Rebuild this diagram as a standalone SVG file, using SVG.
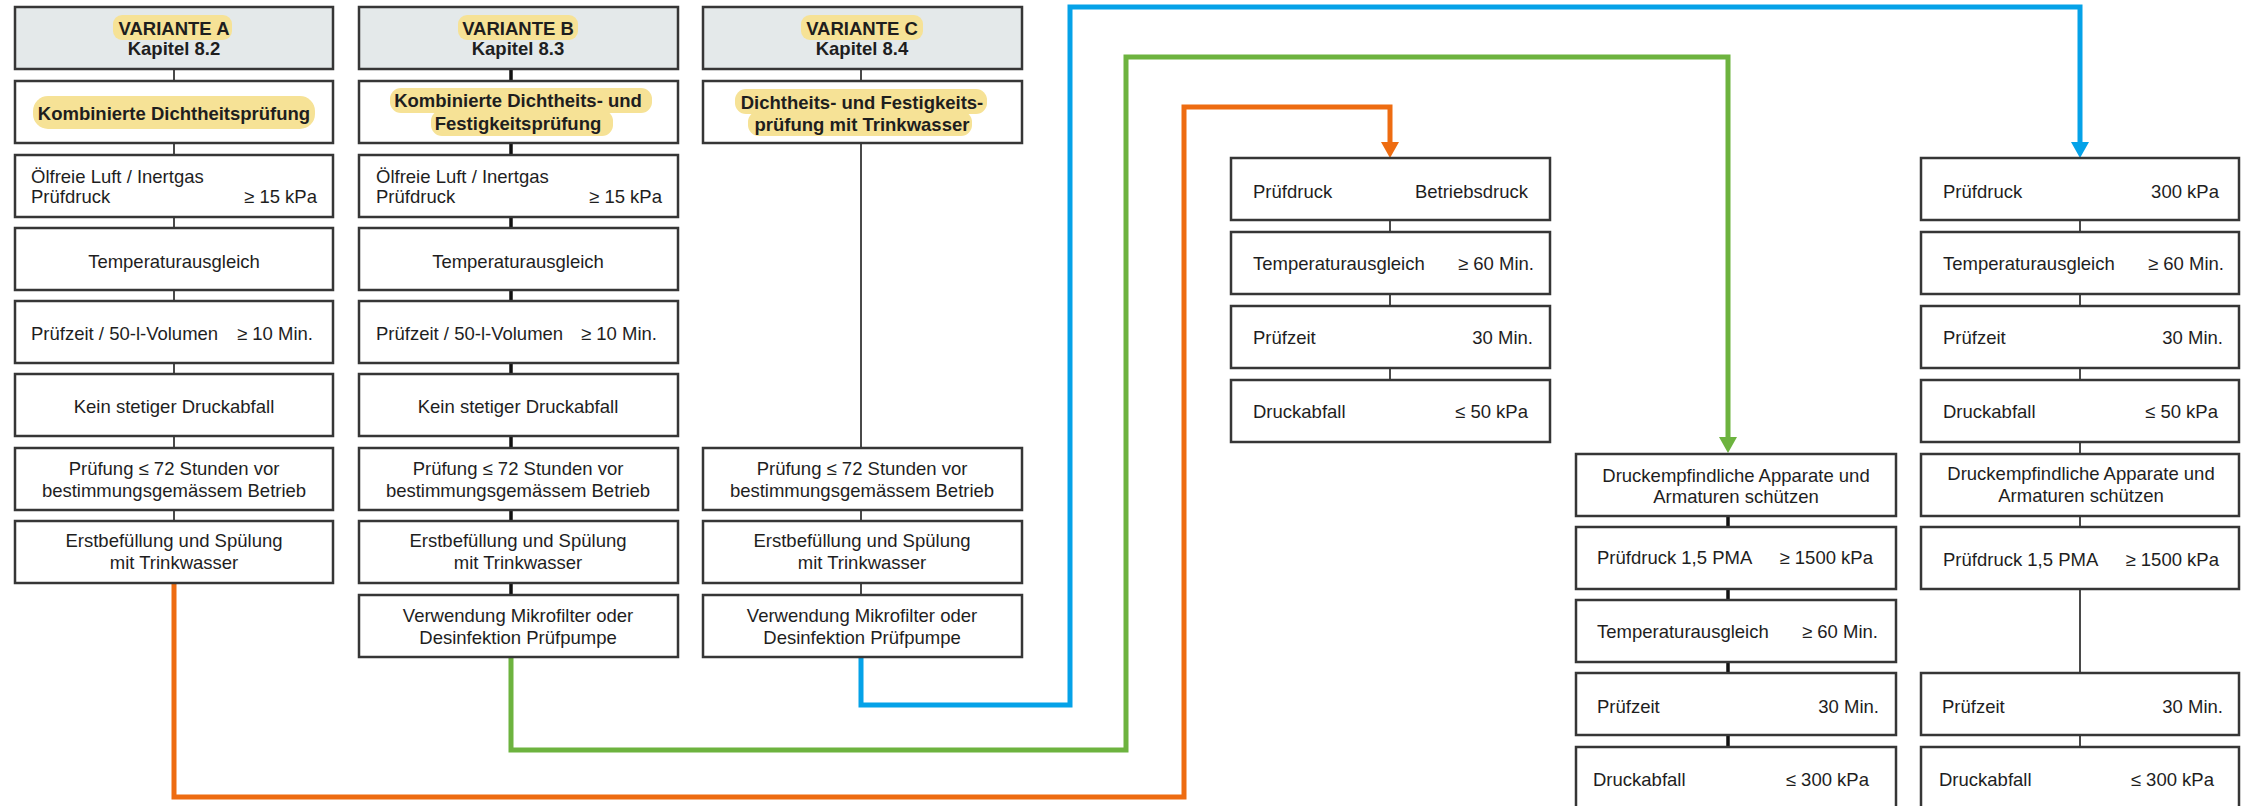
<svg xmlns="http://www.w3.org/2000/svg" width="2252" height="806" viewBox="0 0 2252 806">
<style>
.box{fill:#fff;stroke:#363636;stroke-width:2.5}
.hdr{fill:#e4e9ea;stroke:#363636;stroke-width:2.5}
.hl{fill:#f6e296}
text{font-family:"Liberation Sans",Arial,sans-serif;font-size:18.5px;fill:#1e1e1e}
.b{font-weight:bold}
.m{text-anchor:middle}
.e{text-anchor:end}
.thin{stroke:#4a4a4a;stroke-width:2;fill:none}
.thick{stroke:#111;stroke-width:3.5;fill:none}
.flow{fill:none;stroke-width:5;stroke-linejoin:miter}
</style>
<defs>
<marker id="arrO" viewBox="0 0 16 18" refX="6" refY="9" markerWidth="16" markerHeight="18" markerUnits="userSpaceOnUse" orient="auto"><path d="M0,0 L16,9 L0,18 z" fill="#ee6c11"/></marker>
<marker id="arrG" viewBox="0 0 16 18" refX="6" refY="9" markerWidth="16" markerHeight="18" markerUnits="userSpaceOnUse" orient="auto"><path d="M0,0 L16,9 L0,18 z" fill="#6db33f"/></marker>
<marker id="arrB" viewBox="0 0 16 18" refX="6" refY="9" markerWidth="16" markerHeight="18" markerUnits="userSpaceOnUse" orient="auto"><path d="M0,0 L16,9 L0,18 z" fill="#05a2e8"/></marker>
</defs>
<rect width="2252" height="806" fill="#fff"/>

<g id="connectors">
<line class="thin" x1="174" y1="69" x2="174" y2="521"/>
<line class="thick" x1="511" y1="69" x2="511" y2="595"/>
<line class="thin" x1="861" y1="69" x2="861" y2="595"/>
<line class="thin" x1="1390" y1="221" x2="1390" y2="380"/>
<line class="thin" x1="2080" y1="221" x2="2080" y2="747"/>
<line class="thick" x1="1728" y1="516" x2="1728" y2="747"/>
<path class="flow" stroke="#ee6c11" d="M174,582 V797 H1184 V107 H1390 V148" marker-end="url(#arrO)"/>
<path class="flow" stroke="#6db33f" stroke-width="4.5" d="M511,656 V750 H1126 V57 H1728 V443" marker-end="url(#arrG)"/>
<path class="flow" stroke="#05a2e8" d="M861,657 V705 H1070 V7 H2080 V148" marker-end="url(#arrB)"/>
</g>

<!-- Column A -->
<g id="a-header"><rect class="hdr" x="15" y="7" width="318" height="62"/><rect class="hl" x="113" y="15" width="119" height="25" rx="9"/><text class="b m" x="174" y="35">VARIANTE A</text><text class="b m" x="174" y="55">Kapitel 8.2</text></g>
<g id="a-2"><rect class="box" x="15" y="81" width="318" height="62"/><rect class="hl" x="33" y="96" width="282" height="33" rx="15"/><text class="b m" x="174" y="120">Kombinierte Dichtheitsprüfung</text></g>
<g id="a-3"><rect class="box" x="15" y="155" width="318" height="62"/><text x="31" y="183">Ölfreie Luft / Inertgas</text><text x="31" y="203">Prüfdruck</text><text class="e" x="317" y="203">≥ 15 kPa</text></g>
<g id="a-4"><rect class="box" x="15" y="228" width="318" height="62"/><text class="m" x="174" y="267.5">Temperaturausgleich</text></g>
<g id="a-5"><rect class="box" x="15" y="301" width="318" height="62"/><text x="31" y="340">Prüfzeit / 50-l-Volumen</text><text class="e" x="313" y="340">≥ 10 Min.</text></g>
<g id="a-6"><rect class="box" x="15" y="374" width="318" height="62"/><text class="m" x="174" y="413">Kein stetiger Druckabfall</text></g>
<g id="a-7"><rect class="box" x="15" y="448" width="318" height="62"/><text class="m" x="174" y="474.5">Prüfung ≤ 72 Stunden vor</text><text class="m" x="174" y="497">bestimmungsgemässem Betrieb</text></g>
<g id="a-8"><rect class="box" x="15" y="521" width="318" height="62"/><text class="m" x="174" y="547">Erstbefüllung und Spülung</text><text class="m" x="174" y="569">mit Trinkwasser</text></g>

<!-- Column B -->
<g id="b-header"><rect class="hdr" x="359" y="7" width="319" height="62"/><rect class="hl" x="458" y="15" width="120" height="25" rx="9"/><text class="b m" x="518" y="35">VARIANTE B</text><text class="b m" x="518" y="55">Kapitel 8.3</text></g>
<g id="b-2"><rect class="box" x="359" y="81" width="319" height="62"/><rect class="hl" x="390" y="88" width="262" height="25" rx="11"/><rect class="hl" x="431" y="110" width="182" height="26" rx="11"/><text class="b m" x="518" y="107">Kombinierte Dichtheits- und</text><text class="b m" x="518" y="130">Festigkeitsprüfung</text></g>
<g id="b-3"><rect class="box" x="359" y="155" width="319" height="62"/><text x="376" y="183">Ölfreie Luft / Inertgas</text><text x="376" y="203">Prüfdruck</text><text class="e" x="662" y="203">≥ 15 kPa</text></g>
<g id="b-4"><rect class="box" x="359" y="228" width="319" height="62"/><text class="m" x="518" y="267.5">Temperaturausgleich</text></g>
<g id="b-5"><rect class="box" x="359" y="301" width="319" height="62"/><text x="376" y="340">Prüfzeit / 50-l-Volumen</text><text class="e" x="657" y="340">≥ 10 Min.</text></g>
<g id="b-6"><rect class="box" x="359" y="374" width="319" height="62"/><text class="m" x="518" y="413">Kein stetiger Druckabfall</text></g>
<g id="b-7"><rect class="box" x="359" y="448" width="319" height="62"/><text class="m" x="518" y="474.5">Prüfung ≤ 72 Stunden vor</text><text class="m" x="518" y="497">bestimmungsgemässem Betrieb</text></g>
<g id="b-8"><rect class="box" x="359" y="521" width="319" height="62"/><text class="m" x="518" y="547">Erstbefüllung und Spülung</text><text class="m" x="518" y="569">mit Trinkwasser</text></g>
<g id="b-9"><rect class="box" x="359" y="595" width="319" height="62"/><text class="m" x="518" y="622">Verwendung Mikrofilter oder</text><text class="m" x="518" y="643.5">Desinfektion Prüfpumpe</text></g>

<!-- Column C -->
<g id="c-header"><rect class="hdr" x="703" y="7" width="319" height="62"/><rect class="hl" x="801" y="15" width="122" height="25" rx="9"/><text class="b m" x="862" y="35">VARIANTE C</text><text class="b m" x="862" y="55">Kapitel 8.4</text></g>
<g id="c-2"><rect class="box" x="703" y="81" width="319" height="62"/><rect class="hl" x="735" y="89" width="252" height="25" rx="11"/><rect class="hl" x="748" y="111" width="224" height="25" rx="11"/><text class="b m" x="862" y="108.5">Dichtheits- und Festigkeits-</text><text class="b m" x="862" y="130.5">prüfung mit Trinkwasser</text></g>
<g id="c-7"><rect class="box" x="703" y="448" width="319" height="62"/><text class="m" x="862" y="474.5">Prüfung ≤ 72 Stunden vor</text><text class="m" x="862" y="497">bestimmungsgemässem Betrieb</text></g>
<g id="c-8"><rect class="box" x="703" y="521" width="319" height="62"/><text class="m" x="862" y="547">Erstbefüllung und Spülung</text><text class="m" x="862" y="569">mit Trinkwasser</text></g>
<g id="c-9"><rect class="box" x="703" y="595" width="319" height="62"/><text class="m" x="862" y="622">Verwendung Mikrofilter oder</text><text class="m" x="862" y="643.5">Desinfektion Prüfpumpe</text></g>

<!-- Column D -->
<g id="d-1"><rect class="box" x="1231" y="158" width="319" height="62"/><text x="1253" y="198">Prüfdruck</text><text class="e" x="1528" y="198">Betriebsdruck</text></g>
<g id="d-2"><rect class="box" x="1231" y="232" width="319" height="62"/><text x="1253" y="270">Temperaturausgleich</text><text class="e" x="1534" y="270">≥ 60 Min.</text></g>
<g id="d-3"><rect class="box" x="1231" y="306" width="319" height="62"/><text x="1253" y="344">Prüfzeit</text><text class="e" x="1533" y="344">30 Min.</text></g>
<g id="d-4"><rect class="box" x="1231" y="380" width="319" height="62"/><text x="1253" y="418">Druckabfall</text><text class="e" x="1528" y="418">≤ 50 kPa</text></g>

<!-- Column F -->
<g id="f-1"><rect class="box" x="1576" y="454" width="320" height="62"/><text class="m" x="1736" y="481.5">Druckempfindliche Apparate und</text><text class="m" x="1736" y="502.5">Armaturen schützen</text></g>
<g id="f-2"><rect class="box" x="1576" y="527" width="320" height="62"/><text x="1597" y="564">Prüfdruck 1,5 PMA</text><text class="e" x="1873" y="564">≥ 1500 kPa</text></g>
<g id="f-3"><rect class="box" x="1576" y="600" width="320" height="62"/><text x="1597" y="638">Temperaturausgleich</text><text class="e" x="1878" y="638">≥ 60 Min.</text></g>
<g id="f-4"><rect class="box" x="1576" y="673" width="320" height="62"/><text x="1597" y="712.5">Prüfzeit</text><text class="e" x="1879" y="712.5">30 Min.</text></g>
<g id="f-5"><rect class="box" x="1576" y="747" width="320" height="62"/><text x="1593" y="785.5">Druckabfall</text><text class="e" x="1869" y="785.5">≤ 300 kPa</text></g>

<!-- Column E -->
<g id="e-1"><rect class="box" x="1921" y="158" width="318" height="62"/><text x="1943" y="198">Prüfdruck</text><text class="e" x="2219" y="198">300 kPa</text></g>
<g id="e-2"><rect class="box" x="1921" y="232" width="318" height="62"/><text x="1943" y="270">Temperaturausgleich</text><text class="e" x="2224" y="270">≥ 60 Min.</text></g>
<g id="e-3"><rect class="box" x="1921" y="306" width="318" height="62"/><text x="1943" y="344">Prüfzeit</text><text class="e" x="2223" y="344">30 Min.</text></g>
<g id="e-4"><rect class="box" x="1921" y="380" width="318" height="62"/><text x="1943" y="418">Druckabfall</text><text class="e" x="2218" y="418">≤ 50 kPa</text></g>
<g id="e-5"><rect class="box" x="1921" y="454" width="318" height="62"/><text class="m" x="2081" y="479.5">Druckempfindliche Apparate und</text><text class="m" x="2081" y="501.5">Armaturen schützen</text></g>
<g id="e-6"><rect class="box" x="1921" y="527" width="318" height="62"/><text x="1943" y="565.5">Prüfdruck 1,5 PMA</text><text class="e" x="2219" y="565.5">≥ 1500 kPa</text></g>
<g id="e-7"><rect class="box" x="1921" y="673" width="318" height="62"/><text x="1942" y="712.5">Prüfzeit</text><text class="e" x="2223" y="712.5">30 Min.</text></g>
<g id="e-8"><rect class="box" x="1921" y="747" width="318" height="62"/><text x="1939" y="785.5">Druckabfall</text><text class="e" x="2214" y="785.5">≤ 300 kPa</text></g>
</svg>
